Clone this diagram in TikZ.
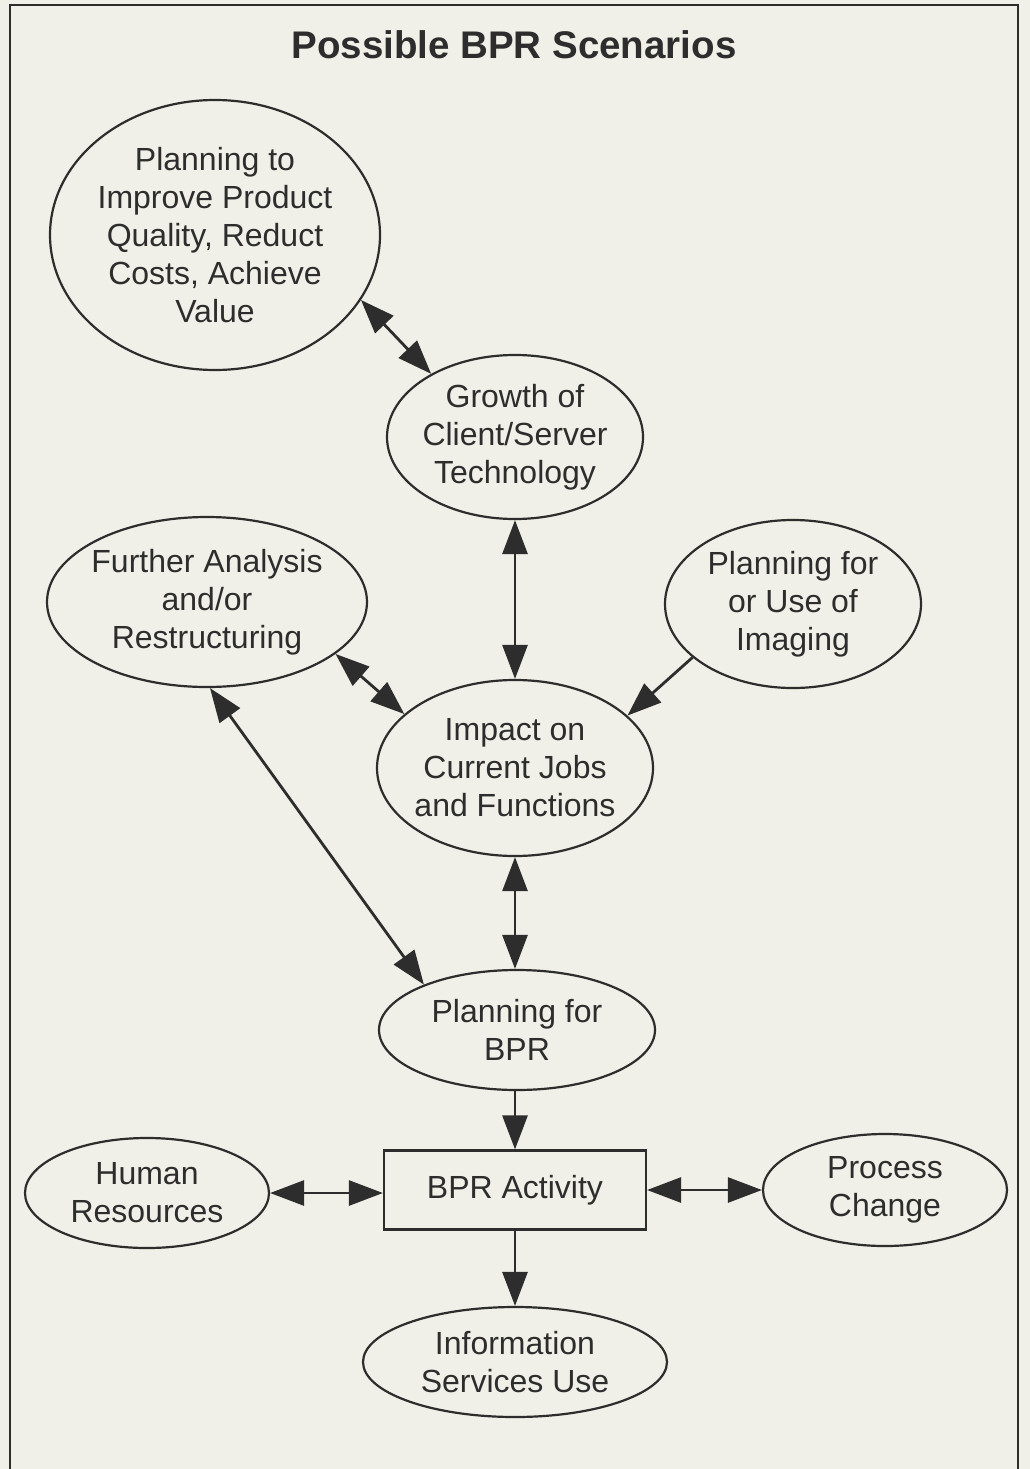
\documentclass[tikz,border=0pt]{standalone}
\usepackage{fontspec}
\setmainfont{Liberation Sans}
\usetikzlibrary{shapes.geometric,arrows.meta}
\definecolor{bg}{RGB}{240,240,232}
\definecolor{ink}{RGB}{45,45,45}
\begin{document}
\begin{tikzpicture}[x=1pt,y=-1pt,
  txt/.style={font=\fontsize{32}{38}\selectfont,text=ink,align=center},
  bubble/.style={ellipse,draw=ink,line width=2.2pt,inner sep=-15pt,txt},
  conn/.style={line width=2.8pt,draw=ink},
  both/.style={conn,{Triangle[length=34pt,width=25pt]}-{Triangle[length=34pt,width=25pt]}},
  one/.style={conn,-{Triangle[length=34pt,width=25pt]}}]
\useasboundingbox (0,0) rectangle (1030,1469);
\fill[bg] (0,0) rectangle (1030,1469);
\draw[ink,line width=2pt] (10,1469) -- (10,5) -- (1018,5) -- (1018,1469);
\node[font=\bfseries\fontsize{38.5}{44}\selectfont,text=ink] (title) at (514,45) {Possible BPR Scenarios};
\node[bubble,minimum width=330pt,minimum height=270pt] (improve) at (215,235) {Planning to\\Improve Product\\Quality, Reduct\\Costs, Achieve\\Value};
\node[bubble,minimum width=256pt,minimum height=164pt] (growth) at (515,437) {Growth of\\Client/Server\\Technology};
\node[bubble,minimum width=320pt,minimum height=170pt] (further) at (207,602) {Further Analysis\\and/or\\Restructuring};
\node[bubble,minimum width=256pt,minimum height=168pt] (imaging) at (793,604) {Planning for\\or Use of\\Imaging};
\node[bubble,minimum width=276pt,minimum height=176pt] (impact) at (515,768) {Impact on\\Current Jobs\\and Functions};
\node[bubble,minimum width=276pt,minimum height=120pt] (planbpr) at (517,1030) {Planning for\\BPR};
\node[draw=ink,line width=2.2pt,minimum width=262pt,minimum height=79pt,txt] (activity) at (515,1190) {BPR Activity};
\node[bubble,minimum width=244pt,minimum height=110pt] (human) at (147,1193) {Human\\Resources};
\node[bubble,minimum width=244pt,minimum height=112pt] (process) at (885,1190) {Process\\Change};
\node[bubble,minimum width=304pt,minimum height=110pt] (info) at (515,1362) {Information\\Services Use};
\draw[both] (improve.-24) -- (growth.143);
\draw[both] (growth.south) -- (impact.north);
\draw[both] (further.-22) -- (impact.154);
\draw[one] (imaging.-152) -- (impact.25);
\draw[both] (further.-88) -- (planbpr.154);
\draw[both] (impact.south) -- (impact.south |- planbpr.north);
\draw[one] (planbpr.south -| activity.north) -- (activity.north);
\draw[both] (human.east) -- (human.east -| activity.west);
\draw[both] (activity.east) -- (process.west);
\draw[one] (activity.south) -- (info.north);
\end{tikzpicture}
\end{document}
